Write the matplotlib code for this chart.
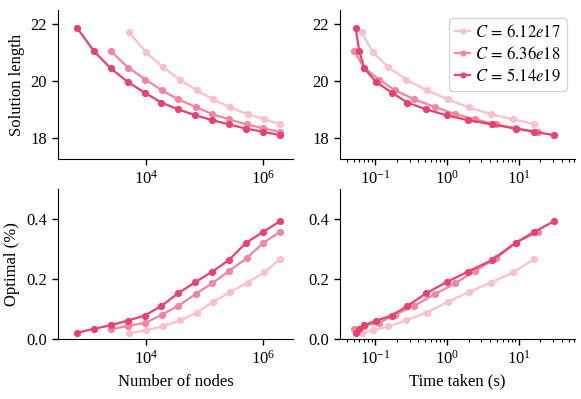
import matplotlib
matplotlib.use("Agg")
import matplotlib.pyplot as plt
from matplotlib.ticker import NullLocator, FixedLocator, LogLocator

plt.rcParams['font.family'] = ['Liberation Serif', 'DejaVu Serif']
plt.rcParams['mathtext.fontset'] = 'stix'
plt.rcParams['font.size'] = 12

labels = ["$C\\,{=}\\,6.12e17$", "$C\\,{=}\\,6.36e18$", "$C\\,{=}\\,5.14e19$"]
colors = ["#fdbfcb", "#f1879f", "#e8426f"]

# Number of nodes
nodes_light = [5100, 9900, 19300, 37100, 73000, 140000, 270000, 540000, 1050000, 1950000]
nodes_med = [2478, 4900, 9700, 18500, 35500, 70000, 135000, 262000, 520000, 1010000, 1950000]
nodes_dark = [665, 1285, 2478, 4786, 9355, 18070, 34900, 69200, 133600, 257900, 511000, 1000000, 1950000]

# Time taken (s)
time_light = [0.0645, 0.0918, 0.152, 0.268, 0.521, 1.03, 2.0, 4.07, 8.42, 16.5]
time_med = [0.0509, 0.069, 0.1135, 0.188, 0.35, 0.687, 1.31, 2.48, 4.78, 9.18, 18.8]
time_dark = [0.0532, 0.0598, 0.0703, 0.102, 0.169, 0.28, 0.509, 0.99, 1.94, 4.24, 9.08, 16.5, 31.4]

# Solution length
len_light = [21.71, 21.01, 20.49, 20.05, 19.67, 19.35, 19.07, 18.83, 18.65, 18.48]
len_med = [21.05, 20.47, 20.05, 19.67, 19.35, 19.08, 18.83, 18.65, 18.47, 18.33, 18.20]
len_dark = [21.85, 21.04, 20.44, 19.97, 19.59, 19.24, 19.00, 18.79, 18.62, 18.47, 18.32, 18.21, 18.09]

# Optimal (%)
opt_light = [0.019, 0.029, 0.042, 0.062, 0.088, 0.124, 0.156, 0.188, 0.222, 0.267]
opt_med = [0.032, 0.044, 0.054, 0.081, 0.111, 0.150, 0.186, 0.227, 0.269, 0.321, 0.358]
opt_dark = [0.021, 0.034, 0.046, 0.061, 0.078, 0.110, 0.152, 0.190, 0.224, 0.263, 0.321, 0.357, 0.393]

nodes = [nodes_light, nodes_med, nodes_dark]
times = [time_light, time_med, time_dark]
lens = [len_light, len_med, len_dark]
opts = [opt_light, opt_med, opt_dark]

fig = plt.figure(figsize=(5.81, 3.99), dpi=100)
W, H = 581, 399
def mk(x0, y0, x1, y1):
    return fig.add_axes([x0 / W, 1 - y1 / H, (x1 - x0) / W, (y1 - y0) / H])

ax_tl = mk(58, 10, 293, 159)
ax_tr = mk(340, 10, 575, 159)
ax_bl = mk(58, 189, 293, 339)
ax_br = mk(340, 189, 575, 339)

kw = dict(marker='o', markersize=4.2, linewidth=1.6)
for i in range(3):
    ax_tl.plot(nodes[i], lens[i], color=colors[i], **kw)
    ax_bl.plot(nodes[i], opts[i], color=colors[i], **kw)
    ax_tr.plot(times[i], lens[i], color=colors[i], label=labels[i], **kw)
    ax_br.plot(times[i], opts[i], color=colors[i], **kw)

for ax in (ax_tl, ax_tr, ax_bl, ax_br):
    ax.set_xscale('log')
    ax.spines['top'].set_visible(False)
    ax.spines['right'].set_visible(False)
    ax.tick_params(which='major', length=4.5, width=1.0)
    ax.tick_params(which='minor', length=2.5, width=0.8)

for ax in (ax_tl, ax_bl):
    ax.set_xlim(10 ** 2.49, 10 ** 6.51)
    ax.xaxis.set_major_locator(FixedLocator([1e4, 1e6]))
    ax.xaxis.set_minor_locator(NullLocator())
for ax in (ax_tr, ax_br):
    ax.set_xlim(10 ** -1.493, 10 ** 1.786)
    ax.xaxis.set_major_locator(FixedLocator([0.1, 1, 10]))
    ax.xaxis.set_minor_locator(LogLocator(base=10, subs=range(2, 10), numticks=20))

for ax in (ax_tl, ax_tr):
    ax.set_ylim(17.25, 22.5)
    ax.set_yticks([18, 20, 22])
for ax in (ax_bl, ax_br):
    ax.set_ylim(0, 0.5)
    ax.set_yticks([0.0, 0.2, 0.4])
    ax.set_yticklabels(['0.0', '0.2', '0.4'])

ax_tl.set_ylabel("Solution length")
ax_bl.set_ylabel("Optimal (%)")
ax_bl.set_xlabel("Number of nodes")
ax_br.set_xlabel("Time taken (s)")

ax_tr.legend(loc='upper right', handlelength=0.9, handletextpad=0.3,
             labelspacing=0.3, borderpad=0.35, markerscale=0.8)

fig.savefig("out.png", dpi=100)
